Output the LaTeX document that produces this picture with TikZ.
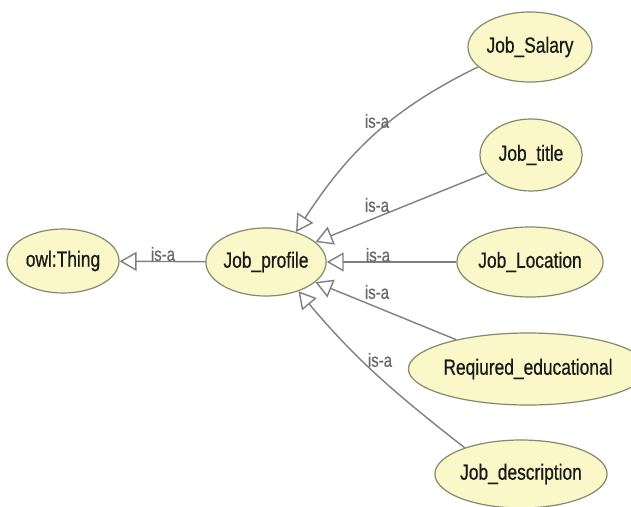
\documentclass[tikz,border=0pt]{standalone}
\usepackage{fontspec}
\setmainfont{Liberation Sans}[FakeStretch=0.79,FakeBold=0.6]
\usetikzlibrary{shapes.geometric,arrows.meta}
\definecolor{classfill}{RGB}{250,248,200}
\definecolor{classedge}{RGB}{135,135,110}
\definecolor{linkgray}{RGB}{128,128,128}
\definecolor{labelgray}{RGB}{105,105,105}
\begin{document}
\begin{tikzpicture}[x=1pt,y=1pt,
  cls/.style={ellipse, draw=classedge, line width=1.2pt, fill=classfill,
    inner sep=0pt, font=\fontsize{22}{26}\selectfont, text=black!90},
  isa/.style={draw=linkgray, line width=1.4pt,
    -{Triangle[open,length=17pt,width=19pt,fill=white]}},
  lbl/.style={font=\fontsize{19}{22}\selectfont, text=labelgray, inner sep=1pt}]
\useasboundingbox[fill=white] (0,0) rectangle (631,-506);

% classes
\node[cls, minimum width=112pt, minimum height=64pt] (thing) at (63,-261) {owl:Thing};
\node[cls, minimum width=108pt, minimum height=68pt] (prof) at (266,-262) {Job\_profile};
\node[cls, minimum width=124pt, minimum height=70pt] (sal) at (530,-47) {Job\_Salary};
\node[cls, minimum width=102pt, minimum height=72pt] (title) at (531,-155) {Job\_title};
\node[cls, minimum width=145pt, minimum height=70pt] (loc) at (530,-262) {Job\_Location};
\node[cls, minimum width=205pt, minimum height=72pt] (edu) at (528,-369) {Reqiured\_educational};
\node[cls, minimum width=142pt, minimum height=68pt] (desc) at (521,-474) {Job\_description};

% subclass links
\draw[isa] (prof) -- (thing);
\draw[isa] (sal.201) to[out=206,in=57] (prof.45);
\draw[isa] (title) -- (prof);
\draw[isa] (loc) -- (prof);
\draw[isa] (edu) -- (prof);
\draw[isa] (desc.155) to[out=142,in=-50] (prof.-42);

% link labels
\node[lbl] (l0) at (163,-254) {is-a};
\node[lbl] (l1) at (377,-121) {is-a};
\node[lbl] (l2) at (377,-205) {is-a};
\node[lbl] (l3) at (378,-255) {is-a};
\node[lbl] (l4) at (377,-292) {is-a};
\node[lbl] (l5) at (380,-360) {is-a};
\end{tikzpicture}
\end{document}
